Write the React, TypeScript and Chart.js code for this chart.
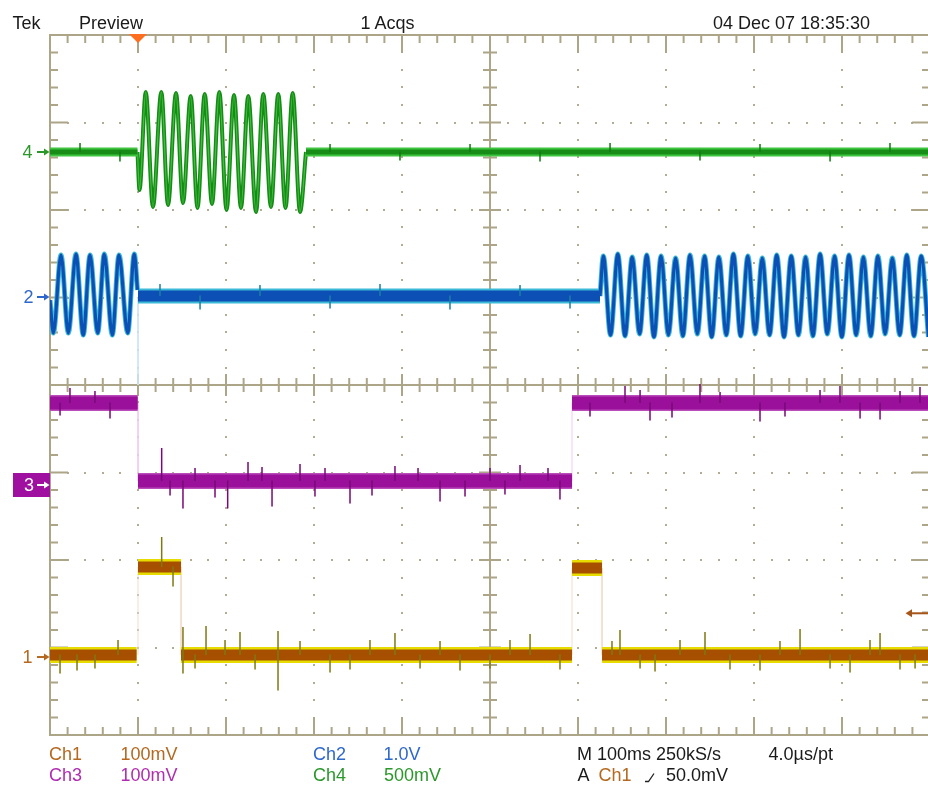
import { useEffect, useRef } from "react";
import { Chart, registerables } from "chart.js";

Chart.register(...registerables);

// ---------------- axes ----------------
// time in ms (M 100 ms/div, 10 div); vertical in screen divisions (8 div, centre = 0)
const TIME_MAX = 997.7; // capture is cut at the right edge of the picture
const GRAT_END = 1000;
const DIV_MIN = -4;
const DIV_MAX = 4;

// ---------------- channel ground markers (div) ----------------
const ch4Marker = 2.663;
const ch2Marker = 1.006;
const ch3Marker = -1.143;
const ch1Marker = -3.109;
const ch1TriggerOffset = 0.5; // 50.0 mV at 100 mV/div

// ---------------- Ch4 (green, 500 mV/div) ----------------
const ch4FlatStart = [0, 290.9];
const ch4FlatEnd = [99.4, TIME_MAX];
const ch4FlatLevel = [2.663, 2.663];
const ch4BurstT = [99.4, 101.7, 108.8, 117.0, 126.5, 134.1, 143.2, 151.1, 159.9, 167.6, 175.8, 184.1, 192.4, 200.6, 209.1, 217.0, 225.3, 234.1, 242.4, 251.1, 259.4, 267.6, 275.8, 284.1, 290.9];
const ch4BurstV = [2.663, 2.229, 3.349, 2.034, 3.349, 2.057, 3.337, 2.080, 3.303, 2.023, 3.326, 2.069, 3.349, 2.000, 3.314, 2.023, 3.303, 1.977, 3.326, 2.034, 3.326, 2.023, 3.337, 1.977, 2.663];
const ch4SpikeT = [34.1, 79.5, 318.2, 397.7, 477.3, 556.8, 636.4, 738.6, 806.8, 886.4, 954.5];
const ch4SpikeV = [2.766, 2.560, 2.754, 2.571, 2.754, 2.560, 2.766, 2.571, 2.754, 2.560, 2.766];

// ---------------- Ch2 (blue, 1.0 V/div) ----------------
const ch2FlatStart = [100];
const ch2FlatEnd = [625.0];
const ch2FlatLevel = [1.017];
const ch2WaveLeftT = [0, 3.8, 12.5, 20.8, 29.5, 37.8, 45.5, 54.2, 61.7, 70.8, 78.4, 88.3, 95.8, 99.4];
const ch2WaveLeftV = [0.971, 0.594, 1.486, 0.594, 1.497, 0.571, 1.486, 0.594, 1.497, 0.571, 1.486, 0.594, 1.497, 1.086];
const ch2WaveRightT = [625.0, 628.8, 636.9, 645.2, 653.4, 661.6, 669.9, 678.1, 686.3, 694.4, 702.7, 710.9, 719.1, 727.3, 735.6, 743.8, 751.9, 760.1, 768.4, 776.6, 784.8, 793.0, 801.3, 809.4, 817.6, 825.8, 834.1, 842.3, 850.5, 858.6, 866.9, 875.1, 883.3, 891.5, 899.8, 907.9, 916.1, 924.3, 932.6, 940.8, 949.0, 957.2, 965.5, 973.6, 981.8, 990.0, 998.2];
const ch2WaveRightV = [1.017, 1.474, 0.571, 1.497, 0.560, 1.463, 0.583, 1.486, 0.549, 1.474, 0.571, 1.451, 0.560, 1.486, 0.583, 1.474, 0.549, 1.463, 0.571, 1.497, 0.560, 1.474, 0.583, 1.451, 0.571, 1.486, 0.549, 1.474, 0.571, 1.463, 0.560, 1.497, 0.583, 1.474, 0.549, 1.486, 0.571, 1.463, 0.560, 1.474, 0.583, 1.451, 0.571, 1.486, 0.560, 1.474, 0.549];
const ch2SpikeT = [125.0, 170.5, 238.6, 318.2, 375.0, 454.5, 534.1, 590.9];
const ch2SpikeV = [1.154, 0.869, 1.143, 0.880, 1.154, 0.869, 1.143, 0.880];

// ---------------- Ch3 (purple, 100 mV/div) ----------------
const ch3SegStart = [0, 100, 593.2];
const ch3SegEnd = [99.6, 593.2, TIME_MAX];
const ch3SegLevel = [-0.206, -1.097, -0.206];
const ch3SpikeT = [126.9, 151.1, 201.9, 225.0, 252.3, 284.1, 340.9, 392.0, 443.2, 534.1, 579.5, 22.7, 68.2, 653.4, 681.8, 738.6, 806.8, 897.7, 943.2, 988.6,
  136.4, 164.8, 187.5, 240.9, 301.1, 312.5, 365.9, 418.2, 471.6, 500.0, 517.0, 565.9, 11.4, 51.1, 613.6, 670.5, 706.8, 761.4, 835.2, 875.0, 920.5, 965.9];
const ch3SpikeV = [-0.720, -1.406, -1.406, -0.880, -1.383, -0.903, -1.349, -0.926, -1.326, -0.914, -1.303, -0.034, -0.377, -0.011, -0.400, 0.011, -0.411, -0.011, -0.389, -0.023,
  -1.257, -0.949, -1.280, -0.937, -1.269, -0.949, -1.257, -0.949, -1.269, -0.949, -1.246, -0.949, -0.343, -0.069, -0.354, -0.057, -0.366, -0.080, -0.354, -0.057, -0.377, -0.069];

// ---------------- Ch1 (orange, 100 mV/div) ----------------
const ch1SegStart = [0, 100, 148.9, 593.2, 627.3];
const ch1SegEnd = [98.4, 148.9, 593.2, 627.3, TIME_MAX];
const ch1SegLevel = [-3.086, -2.080, -3.086, -2.091, -3.086];
const ch1SpikeT = [11.4, 30.7, 77.3, 126.9, 139.8, 151.1, 151.1, 177.3, 215.9, 259.1, 259.1, 318.2, 392.0, 465.9, 545.5, 647.7, 687.5, 744.3, 806.8, 852.3, 909.1, 943.2, 983.0,
  51.1, 164.8, 198.9, 233.0, 284.1, 340.9, 363.6, 420.5, 443.2, 500.0, 522.7, 579.5, 638.6, 670.5, 715.9, 772.7, 829.5, 886.4, 931.8, 965.9];
const ch1SpikeV = [-3.291, -3.257, -2.914, -1.737, -2.297, -2.766, -3.291, -2.754, -2.823, -3.486, -2.811, -3.280, -2.834, -3.257, -2.846, -2.800, -3.269, -2.823, -3.257, -2.789, -3.280, -2.834, -3.234,
  -3.234, -3.234, -2.914, -3.246, -2.926, -3.246, -2.914, -3.234, -2.926, -3.234, -2.914, -3.246, -2.926, -3.234, -2.914, -3.246, -2.926, -3.234, -2.914, -3.246];

// ---------------- text ----------------
const FONT = '"Liberation Sans", Arial, "DejaVu Sans", sans-serif';
const C_CH1 = "#b5681f";
const C_CH2 = "#2f68cc";
const C_CH3 = "#b02cb0";
const C_CH4 = "#2b982b";
const headerLabels = ["Tek", "Preview", "1 Acqs", "04 Dec 07 18:35:30"];
const headerX = [12.5, 79, 360.5, 713];
const footerRow1 = ["Ch1", "100mV", "Ch2", "1.0V", "M 100ms 250kS/s", "4.0\u00b5s/pt"];
const footerRow1X = [49, 120.5, 313, 383.5, 577, 768.5];
const footerRow1C = [C_CH1, C_CH1, C_CH2, C_CH2, "#1a1a1a", "#1a1a1a"];
const footerRow2 = ["Ch3", "100mV", "Ch4", "500mV", "A", "Ch1", "50.0mV"];
const footerRow2X = [49, 120.5, 313, 384, 577.5, 598.5, 666];
const footerRow2C = [C_CH3, C_CH3, C_CH4, C_CH4, "#1a1a1a", C_CH1, "#1a1a1a"];
const markerTexts = ["4", "2", "3", "1"];
const markerLevels = [ch4Marker, ch2Marker, ch3Marker, ch1Marker];
const markerColors = [C_CH4, C_CH2, "#ffffff", C_CH1];
const markerX = [22.5, 23.5, 24, 22.5];

// ---------------- helpers ----------------
type P = { x: number; y: number | null };
const zip = (t: number[], v: number[]): P[] => t.map((x, i) => ({ x, y: v[i] }));
const segments = (s: number[], e: number[], lv: number[]): P[] => {
  const out: P[] = [];
  s.forEach((x0, i) => {
    out.push({ x: x0, y: lv[i] }, { x: e[i], y: lv[i] }, { x: e[i], y: null });
  });
  return out;
};
const levelAt = (t: number, s: number[], e: number[], lv: number[]) => {
  for (let i = 0; i < s.length; i++) if (t >= s[i] && t <= e[i]) return lv[i];
  return lv[0];
};
const spikes = (t: number[], v: number[], s: number[], e: number[], lv: number[]): P[] => {
  const out: P[] = [];
  t.forEach((x, i) => {
    out.push({ x, y: levelAt(x, s, e, lv) }, { x, y: v[i] }, { x, y: null });
  });
  return out;
};
const transitions = (t: number[], a: number[], b: number[]): P[] => {
  const out: P[] = [];
  t.forEach((x, i) => out.push({ x, y: a[i] }, { x, y: b[i] }, { x, y: null }));
  return out;
};

const ds = (data: P[], color: string, width: number, order: number, extra: any = {}) => ({
  data,
  borderColor: color,
  backgroundColor: color,
  borderWidth: width,
  pointRadius: 0,
  pointHoverRadius: 0,
  tension: 0,
  fill: false,
  spanGaps: false,
  borderCapStyle: "butt",
  borderJoinStyle: "round",
  clip: 0,
  order,
  ...extra,
});

const GRID = "#ada587";
const DOT = "#b3ab92";

const scopeDecor = {
  id: "scopeDecor",
  beforeDatasetsDraw(chart: any) {
    const { ctx, scales } = chart;
    const X = (t: number) => scales.x.getPixelForValue(t);
    const Y = (v: number) => scales.y.getPixelForValue(v);
    const L = X(0), R = X(GRAT_END), T = Y(DIV_MAX), B = Y(DIV_MIN);
    const cx = X(GRAT_END / 2), cy = Y(0);
    ctx.save();
    ctx.fillStyle = DOT;
    for (let i = 1; i < 10; i++) {
      if (i === 5) continue;
      const gx = X(i * 100);
      for (let k = 1; k < 40; k++) ctx.fillRect(Math.round(gx) - 1, Math.round(Y(DIV_MIN + k * 0.2)) - 1, 2, 2);
    }
    for (let j = -3; j <= 3; j++) {
      if (j === 0) continue;
      const gy = Y(j);
      for (let k = 1; k < 50; k++) ctx.fillRect(Math.round(X(k * 20)) - 1, Math.round(gy) - 1, 2, 2);
    }
    ctx.strokeStyle = GRID;
    ctx.lineWidth = 2;
    const seg = (x1: number, y1: number, x2: number, y2: number) => {
      ctx.beginPath();
      ctx.moveTo(x1, y1);
      ctx.lineTo(x2, y2);
      ctx.stroke();
    };
    ctx.strokeRect(L, T, R - L, B - T);
    seg(cx, T, cx, B);
    seg(L, cy, R, cy);
    for (let k = 1; k < 50; k++) {
      const gx = X(k * 20);
      const major = k % 5 === 0;
      const len = major ? 18 : 8;
      seg(gx, T, gx, T + len);
      seg(gx, B - len, gx, B);
      const c = major ? 11 : 7;
      seg(gx, cy - c, gx, cy + c);
    }
    for (let k = 1; k < 40; k++) {
      const gy = Y(DIV_MIN + k * 0.2);
      const major = k % 5 === 0;
      const len = major ? 18 : 8;
      seg(L, gy, L + len, gy);
      seg(R - len, gy, R, gy);
      const c = major ? 11 : 7;
      seg(cx - c, gy, cx + c, gy);
    }
    ctx.restore();
  },
  afterDatasetsDraw(chart: any) {
    const { ctx, scales } = chart;
    const X = (t: number) => scales.x.getPixelForValue(t);
    const Y = (v: number) => scales.y.getPixelForValue(v);
    const T = Y(DIV_MAX);
    ctx.save();
    // trigger position marker
    const tx = X(100);
    ctx.fillStyle = "#ff6d1f";
    ctx.beginPath();
    ctx.moveTo(tx - 9, T - 1);
    ctx.lineTo(tx + 9, T - 1);
    ctx.lineTo(tx, T + 8);
    ctx.closePath();
    ctx.fill();
    // ch3 marker box
    const y3 = Y(ch3Marker);
    ctx.fillStyle = "#a010a0";
    ctx.fillRect(13, y3 - 12, 37, 24);
    const arrowR = (y: number, color: string) => {
      ctx.strokeStyle = color;
      ctx.fillStyle = color;
      ctx.lineWidth = 2;
      ctx.beginPath();
      ctx.moveTo(37, y);
      ctx.lineTo(45, y);
      ctx.stroke();
      ctx.beginPath();
      ctx.moveTo(44, y - 3.5);
      ctx.lineTo(49.5, y);
      ctx.lineTo(44, y + 3.5);
      ctx.closePath();
      ctx.fill();
    };
    arrowR(Y(ch4Marker), C_CH4);
    arrowR(Y(ch2Marker), C_CH2);
    arrowR(y3, "#ffffff");
    arrowR(Y(ch1Marker), C_CH1);
    // trigger level arrow (right)
    const ty = Y(ch1Marker + ch1TriggerOffset);
    ctx.strokeStyle = "#a6561a";
    ctx.fillStyle = "#a6561a";
    ctx.lineWidth = 2;
    ctx.beginPath();
    ctx.moveTo(911, ty);
    ctx.lineTo(928, ty);
    ctx.stroke();
    ctx.beginPath();
    ctx.moveTo(912, ty - 4);
    ctx.lineTo(905.5, ty);
    ctx.lineTo(912, ty + 4);
    ctx.closePath();
    ctx.fill();
    // rising-edge icon in the footer
    ctx.strokeStyle = "#222";
    ctx.lineWidth = 1.3;
    ctx.beginPath();
    ctx.moveTo(645, 781.5);
    ctx.lineTo(648.5, 781.5);
    ctx.lineTo(654, 773.5);
    ctx.stroke();
    ctx.restore();
  },
};

export default function App() {
  const ref = useRef<HTMLCanvasElement | null>(null);

  useEffect(() => {
    if (!ref.current) return;
    const ch4Spk = spikes(ch4SpikeT, ch4SpikeV, ch4FlatStart, ch4FlatEnd, ch4FlatLevel);
    const ch2Spk = spikes(ch2SpikeT, ch2SpikeV, ch2FlatStart, ch2FlatEnd, ch2FlatLevel);
    const ch3Spk = spikes(ch3SpikeT, ch3SpikeV, ch3SegStart, ch3SegEnd, ch3SegLevel);
    const ch1Spk = spikes(ch1SpikeT, ch1SpikeV, ch1SegStart, ch1SegEnd, ch1SegLevel);
    const faint1 = transitions([100, 148.9, 593.2, 627.3], [-3.086, -2.08, -3.086, -2.091], [-2.08, -3.086, -2.091, -3.086]);
    const faint3 = transitions([100, 593.2], [-0.206, -1.097], [-1.097, -0.206]);
    const faint2 = transitions([100], [1.0], [0.0]);
    const mono = { cubicInterpolationMode: "monotone" };

    const chart = new Chart(ref.current, {
      type: "line",
      data: {
        datasets: [
          // spikes on top
          ds(ch1Spk, "#7e7a12", 1.5, 0),
          ds(ch3Spk, "#780a78", 1.5, 0),
          ds(ch4Spk, "#127a12", 1.5, 0),
          ds(ch2Spk, "#1a7fa6", 1.5, 0),
          // dark cores
          ds(segments(ch4FlatStart, ch4FlatEnd, ch4FlatLevel), "#178c17", 5, 1),
          ds(zip(ch4BurstT, ch4BurstV), "#3dc23d", 1.2, 1, mono),
          ds(segments(ch2FlatStart, ch2FlatEnd, ch2FlatLevel), "#0c50b6", 11, 1),
          ds(zip(ch2WaveLeftT, ch2WaveLeftV), "#0c50b6", 3.2, 1, mono),
          ds(zip(ch2WaveRightT, ch2WaveRightV), "#0c50b6", 3.2, 1, mono),
          ds(segments(ch3SegStart, ch3SegEnd, ch3SegLevel), "#9a109a", 13, 1),
          ds(segments(ch1SegStart, ch1SegEnd, ch1SegLevel), "#a64f00", 11, 1),
          // light edges underneath
          ds(segments(ch4FlatStart, ch4FlatEnd, ch4FlatLevel), "#3fc43f", 9, 2),
          ds(zip(ch4BurstT, ch4BurstV), "#168c16", 4, 2, mono),
          ds(segments(ch2FlatStart, ch2FlatEnd, ch2FlatLevel), "#3cb9d6", 15, 2),
          ds(zip(ch2WaveLeftT, ch2WaveLeftV), "#3cb9d6", 5, 2, mono),
          ds(zip(ch2WaveRightT, ch2WaveRightV), "#3cb9d6", 5, 2, mono),
          ds(segments(ch3SegStart, ch3SegEnd, ch3SegLevel), "#bb4dbb", 16, 2),
          ds(segments(ch1SegStart, ch1SegEnd, ch1SegLevel), "#e6dc00", 16, 2),
          // faint transitions
          ds(faint1, "#f3dccf", 1, 3),
          ds(faint3, "#f0cdf0", 1, 3),
          ds(faint2, "#cfe3f6", 1, 3),
        ],
      },
      options: {
        animation: false,
        responsive: false,
        maintainAspectRatio: false,
        devicePixelRatio: 1,
        events: [],
        layout: { padding: { left: 50, top: 35, right: 0, bottom: 65 } },
        plugins: { legend: { display: false }, tooltip: { enabled: false }, title: { display: false } },
        scales: {
          x: { type: "linear", min: 0, max: TIME_MAX, display: false },
          y: { type: "linear", min: DIV_MIN, max: DIV_MAX, display: false },
        },
      },
      plugins: [scopeDecor],
    } as any);
    return () => chart.destroy();
  }, []);

  const SIZE = 18;
  const topFor = (baseline: number) => baseline - 0.8465 * SIZE;
  const text = (t: string, x: number, baseline: number, color: string, key: string) => (
    <div
      key={key}
      style={{
        position: "absolute",
        left: x,
        top: topFor(baseline),
        fontSize: SIZE,
        lineHeight: `${SIZE}px`,
        color,
        whiteSpace: "pre",
        fontFamily: FONT,
      }}
    >
      {t}
    </div>
  );
  const divToPx = (v: number) => 35 + ((DIV_MAX - v) / (DIV_MAX - DIV_MIN)) * 700;

  return (
    <div style={{ position: "absolute", left: 0, top: 0, width: 928, height: 800, background: "#ffffff", overflow: "hidden" }}>
      <canvas ref={ref} width={928} height={800} style={{ position: "absolute", left: 0, top: 0, width: 928, height: 800 }} />
      {headerLabels.map((t, i) => text(t, headerX[i], 29, "#1a1a1a", "h" + i))}
      {footerRow1.map((t, i) => text(t, footerRow1X[i], 760, footerRow1C[i], "f1" + i))}
      {footerRow2.map((t, i) => text(t, footerRow2X[i], 781.5, footerRow2C[i], "f2" + i))}
      {markerTexts.map((t, i) => text(t, markerX[i], divToPx(markerLevels[i]) + 6.5, markerColors[i], "m" + i))}
    </div>
  );
}
